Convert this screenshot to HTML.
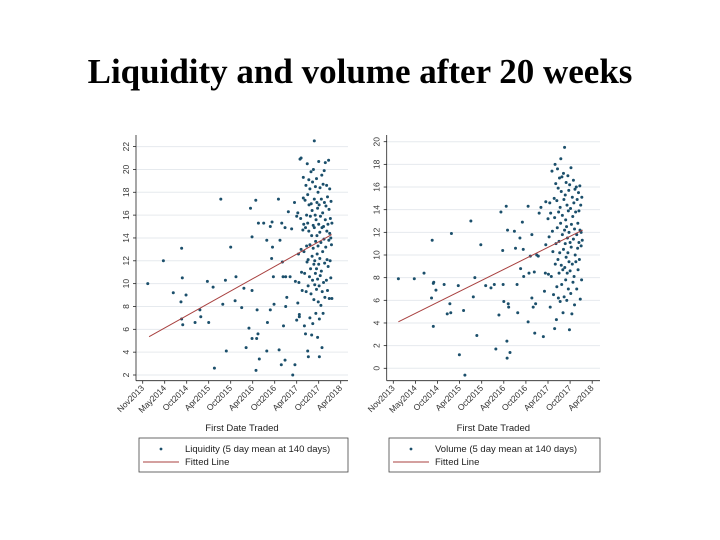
<!DOCTYPE html>
<html><head><meta charset="utf-8">
<style>
body{margin:0;background:#fff;}
#wrap{position:relative;width:720px;height:540px;overflow:hidden;background:#fff;}
h1{position:absolute;left:0;top:52px;width:720px;margin:0;text-align:center;font:bold 35px "Liberation Serif",serif;color:#000;}
svg{position:absolute;left:0;top:0;}
</style></head>
<body>
<div id="wrap">
<h1>Liquidity and volume after 20 weeks</h1>
<svg id="chart" width="720" height="540"></svg>
</div>
<script>
const xTickLabels=["Nov2013","May2014","Oct2014","Apr2015","Oct2015","Apr2016","Oct2016","Apr2017","Oct2017","Apr2018"];
const liqTicks=[2,4,6,8,10,12,14,16,18,20,22];
const volTicks=[0,2,4,6,8,10,12,14,16,18,20];
const liqFit=[[0.29,5.35],[8.59,14.3]];
const volFit=[[0.23,4.1],[8.57,12.2]];
const liqPoints=[[0.23,10],[0.94,12],[1.39,9.2],[1.77,13.1],[1.8,10.5],[1.74,8.4],[1.97,9],[1.77,6.9],[1.82,6.4],[2.38,6.6],[2.6,7.7],[2.64,7.1],[2.94,10.2],[3.0,6.6],[3.2,9.7],[3.26,2.6],[3.55,17.4],[3.64,8.2],[3.76,10.3],[3.8,4.1],[4.0,13.2],[4.2,8.5],[4.24,10.6],[4.5,7.9],[4.6,9.6],[4.7,4.4],[4.83,6.1],[4.9,16.6],[4.97,14.1],[4.97,5.2],[4.97,9.4],[5.14,17.3],[5.15,2.4],[5.2,7.7],[5.18,5.2],[5.24,5.6],[5.3,3.4],[5.26,15.3],[5.5,15.3],[5.64,4.1],[5.67,6.6],[5.64,13.8],[5.8,15],[5.8,7.7],[5.86,12.2],[5.88,15.4],[5.9,13.2],[5.94,10.6],[5.97,8.2],[6.17,17.4],[6.2,4.2],[6.24,13.8],[6.3,2.9],[6.32,15.3],[6.35,11.9],[6.38,10.6],[6.4,6.3],[6.47,14.9],[6.47,3.3],[6.5,10.6],[6.55,8.8],[6.5,8.0],[6.62,16.3],[6.7,10.6],[6.77,14.8],[6.82,2.0],[6.9,17.1],[6.92,2.9],[6.94,10.2],[7.0,6.8],[7.05,8.3],[7.12,7.3],[7.2,21],
[7.0,15.9],[7.05,16.2],[7.08,12.6],[7.1,10.1],[7.12,7.1],[7.15,20.9],[7.18,15.7],[7.2,13.0],[7.22,11.0],[7.25,9.4],[7.28,14.7],[7.3,19.3],[7.3,17.5],[7.32,15.2],[7.33,12.8],[7.35,6.3],[7.36,10.9],[7.38,17.3],[7.4,14.9],[7.4,5.6],[7.42,18.6],[7.43,9.3],[7.45,16.0],[7.45,13.3],[7.47,11.9],[7.48,20.5],[7.5,17.8],[7.5,15.3],[7.5,4.1],[7.52,12.1],[7.52,9.8],[7.53,3.6],[7.55,19.1],[7.55,14.6],[7.56,16.9],[7.58,10.6],[7.6,18.3],[7.6,13.4],[7.6,7.0],[7.62,15.9],[7.63,11.3],[7.65,19.8],[7.65,9.1],[7.66,17.0],[7.68,14.2],[7.68,5.5],[7.7,12.4],[7.7,16.4],[7.72,18.9],[7.72,10.3],[7.73,6.5],[7.75,15.1],[7.75,13.1],[7.76,20.0],[7.78,11.7],[7.78,8.6],[7.8,17.4],[7.8,14.9],[7.8,22.5],[7.82,9.9],[7.82,12.0],[7.84,16.0],[7.85,18.5],[7.85,10.9],[7.86,13.7],[7.87,7.4],[7.88,15.6],[7.9,11.3],[7.9,19.2],[7.9,9.5],[7.92,17.1],[7.92,14.2],[7.93,12.6],[7.95,16.6],[7.95,10.4],[7.95,5.3],[7.97,18.0],[7.97,13.3],[7.98,8.4],[8.0,15.2],[8.0,11.7],[8.0,20.7],[8.02,16.9],[8.02,9.8],[8.03,6.9],[8.03,3.6],[8.05,14.5],[8.05,12.2],[8.06,18.4],[8.07,10.7],[8.08,15.9],[8.1,13.6],[8.1,8.1],[8.12,17.4],[8.12,11.1],[8.14,19.5],[8.15,14.9],[8.15,4.4],[8.16,9.3],[8.18,16.2],[8.18,12.8],[8.2,7.4],[8.2,18.7],[8.22,15.0],[8.22,10.1],[8.24,13.9],[8.25,19.9],[8.26,17.1],[8.27,11.8],[8.28,8.8],[8.3,15.6],[8.3,20.6],[8.32,13.2],[8.33,16.8],[8.35,10.3],[8.36,18.6],[8.37,14.6],[8.38,12.1],[8.4,17.6],[8.4,9.4],[8.42,15.2],[8.43,11.5],[8.45,20.8],[8.46,13.8],[8.47,16.5],[8.48,8.7],[8.5,14.4],[8.5,18.3],[8.52,12.0],[8.53,15.7],[8.55,14.0],[8.55,10.5],[8.56,17.2],[8.58,13.4],[8.6,8.7],[8.6,15.3]];
const volPoints=[[0.23,7.9],[0.95,7.9],[1.39,8.4],[1.76,11.3],[1.73,6.2],[1.81,7.5],[1.83,7.6],[1.93,6.9],[1.81,3.7],[2.3,7.4],[2.44,4.8],[2.56,5.7],[2.63,11.9],[2.6,4.9],[2.94,7.3],[2.99,1.2],[3.18,5.1],[3.24,-0.6],[3.51,13],[3.62,6.3],[3.69,8],[3.78,2.9],[3.96,10.9],[4.18,7.3],[4.42,7.1],[4.57,7.4],[4.64,1.7],[4.78,4.7],[4.87,13.8],[4.95,10.4],[4.97,7.4],[5.0,5.9],[5.11,14.3],[5.14,2.4],[5.17,12.2],[5.15,0.9],[5.2,5.7],[5.22,5.4],[5.28,1.4],[5.48,12.1],[5.53,10.6],[5.6,7.4],[5.63,4.9],[5.73,11.5],[5.76,8.8],[5.84,12.9],[5.88,10.5],[5.9,8.1],[6.1,14.3],[6.1,4.1],[6.14,8.4],[6.2,9.9],[6.27,11.8],[6.27,6.2],[6.33,5.4],[6.38,8.5],[6.4,3.1],[6.44,5.7],[6.49,10],[6.56,9.9],[6.6,13.7],[6.68,14.2],[6.79,2.8],[6.84,6.8],[6.9,10.9],[6.88,8.4],[6.9,14.7],
[7.0,13.2],[7.02,8.3],[7.05,11.6],[7.08,14.6],[7.1,5.4],[7.12,13.7],[7.15,8.1],[7.18,17.4],[7.2,12.1],[7.22,10.3],[7.25,6.5],[7.28,15.0],[7.3,13.3],[7.3,3.5],[7.32,18.0],[7.33,9.2],[7.35,16.3],[7.36,11.0],[7.38,4.3],[7.4,14.8],[7.4,7.2],[7.42,12.4],[7.43,17.6],[7.45,9.6],[7.46,15.9],[7.47,6.2],[7.48,13.8],[7.5,11.2],[7.5,8.4],[7.52,16.8],[7.53,10.2],[7.55,14.2],[7.55,5.9],[7.57,12.8],[7.58,18.5],[7.6,9.1],[7.6,15.6],[7.62,7.4],[7.63,16.9],[7.65,11.8],[7.65,13.5],[7.67,8.7],[7.68,4.9],[7.7,17.2],[7.7,10.5],[7.72,14.9],[7.73,6.3],[7.75,12.2],[7.75,19.5],[7.76,8.9],[7.78,15.3],[7.78,11.0],[7.8,13.1],[7.8,7.8],[7.82,16.4],[7.82,9.8],[7.84,12.5],[7.85,6.0],[7.86,14.4],[7.87,8.4],[7.88,11.5],[7.9,17.0],[7.9,10.2],[7.92,13.9],[7.92,7.0],[7.94,15.7],[7.95,9.4],[7.95,12.0],[7.97,3.4],[7.98,16.2],[8.0,11.1],[8.0,8.6],[8.02,14.1],[8.03,6.6],[8.04,17.7],[8.05,10.7],[8.06,12.7],[8.08,4.8],[8.1,15.1],[8.1,9.2],[8.12,13.4],[8.13,7.6],[8.15,16.6],[8.15,11.4],[8.17,14.6],[8.18,8.1],[8.2,12.3],[8.2,5.6],[8.22,15.8],[8.23,10.0],[8.25,13.8],[8.26,9.4],[8.28,16.0],[8.3,11.8],[8.3,7.0],[8.32,14.9],[8.34,10.6],[8.35,12.8],[8.36,8.7],[8.38,15.5],[8.4,11.1],[8.4,13.9],[8.42,9.6],[8.44,16.1],[8.45,12.2],[8.46,6.1],[8.48,14.4],[8.5,10.8],[8.5,12.0],[8.52,7.8],[8.53,15.1],[8.55,11.3]];

const NS="http://www.w3.org/2000/svg";
const svg=document.getElementById('chart');
function mk(tag,attrs,parent){const e=document.createElementNS(NS,tag);for(const k in attrs)e.setAttribute(k,attrs[k]);(parent||svg).appendChild(e);return e;}

function drawChart(cfg){
  const g=mk('g',{});
  
  
  const X=v=>cfg.x0+v*cfg.xStep;
  const Y=v=>cfg.yRef-(v-cfg.yRefVal)*cfg.yPerUnit;
  cfg.ticks.forEach(t=>{
    const l=mk('line',{x1:cfg.left,x2:cfg.right,y1:Y(t),y2:Y(t),stroke:'#e6eaee','stroke-width':1},g);
    
    
  });
  const ya=mk('line',{x1:cfg.left,x2:cfg.left,y1:cfg.top,y2:cfg.bottom,stroke:'#222','stroke-width':0.8},g);
  
  
  const xa=mk('line',{x1:cfg.left,x2:cfg.right,y1:cfg.bottom,y2:cfg.bottom,stroke:'#222','stroke-width':0.8},g);
  
  
  cfg.ticks.forEach(t=>{
    mk('line',{x1:cfg.left-3,x2:cfg.left,y1:Y(t),y2:Y(t),stroke:'#222','stroke-width':0.8},g);
    const tx=mk('text',{x:cfg.left-7,y:Y(t),transform:`rotate(-90 ${cfg.left-7} ${Y(t)})`,'text-anchor':'middle','font-size':8.5,'font-family':'Liberation Sans, sans-serif',fill:'#333'},g);
    tx.textContent=t;
    
    
  });
  xTickLabels.forEach((lab,i)=>{
    const x=X(i);
    mk('line',{x1:x,x2:x,y1:cfg.bottom,y2:cfg.bottom+3,stroke:'#222','stroke-width':0.8},g);
    const tx=mk('text',{x:x+2,y:cfg.bottom+8,transform:`rotate(-45 ${x+2} ${cfg.bottom+8})`,'text-anchor':'end','font-size':8.5,'font-family':'Liberation Sans, sans-serif',fill:'#333'},g);
    tx.textContent=lab;
    
    
  });
  const xt=mk('text',{x:(cfg.left+cfg.right)/2,y:431,'text-anchor':'middle','font-size':9.5,'font-family':'Liberation Sans, sans-serif',fill:'#222'},g);
  xt.textContent='First Date Traded';
  
  
  cfg.points.forEach(p=>{
    const c=mk('circle',{cx:X(p[0]),cy:Y(p[1]),r:1.5,fill:'#1b4f6b'},g);
    
    
  });
  const fl=mk('line',{x1:X(cfg.fit[0][0]),y1:Y(cfg.fit[0][1]),x2:X(cfg.fit[1][0]),y2:Y(cfg.fit[1][1]),stroke:'#a8403f','stroke-width':1},g);
  
  
  const lg=mk('g',{},g);
  
  
  mk('rect',{x:cfg.legX,y:438,width:cfg.legW,height:34,fill:'#fff',stroke:'#444','stroke-width':0.8},lg);
  mk('circle',{cx:cfg.legX+22,cy:449,r:1.4,fill:'#1b4f6b'},lg);
  const t1=mk('text',{x:cfg.legX+46,y:452,'font-size':9.5,'font-family':'Liberation Sans, sans-serif',fill:'#222'},lg);
  t1.textContent=cfg.label;
  
  
  mk('line',{x1:cfg.legX+4,x2:cfg.legX+40,y1:462,y2:462,stroke:'#a8403f','stroke-width':1},lg);
  const t2=mk('text',{x:cfg.legX+46,y:465,'font-size':9.5,'font-family':'Liberation Sans, sans-serif',fill:'#222'},lg);
  t2.textContent='Fitted Line';
  
  
}
drawChart({name:'liquidity-chart',x0:142.7,xStep:22,yRef:375,yRefVal:2,yPerUnit:11.42,left:136,right:348,top:135,bottom:380.7,ticks:liqTicks,points:liqPoints,fit:liqFit,legX:139,legW:209,label:'Liquidity (5 day mean at 140 days)'});
drawChart({name:'volume-chart',x0:393.3,xStep:22.1,yRef:368.3,yRefVal:0,yPerUnit:11.33,left:386.7,right:600,top:135,bottom:380.7,ticks:volTicks,points:volPoints,fit:volFit,legX:389,legW:211,label:'Volume (5 day mean at 140 days)'});
</script>
</body></html>
